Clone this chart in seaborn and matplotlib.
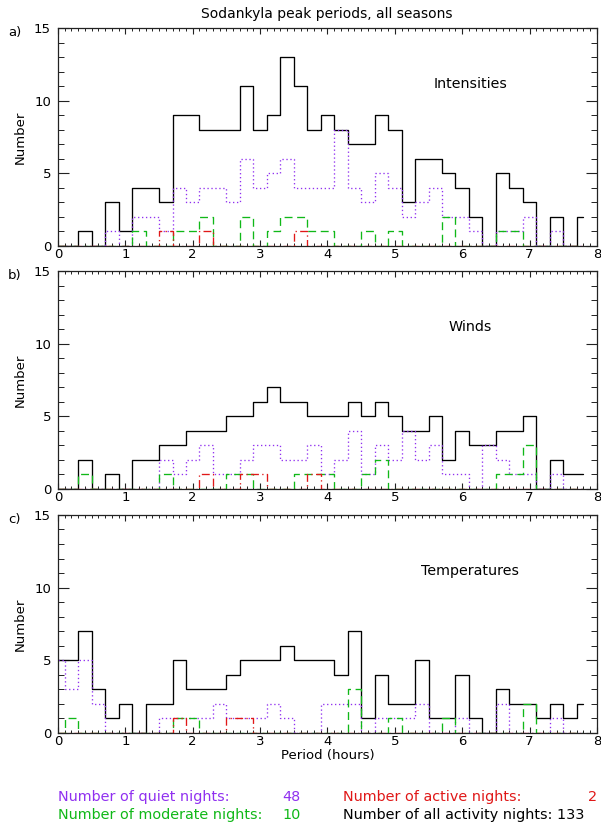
import numpy as np
import pandas as pd
import matplotlib
matplotlib.use("Agg")
import matplotlib.pyplot as plt
from matplotlib.ticker import MultipleLocator
import seaborn as sns

# Bin centres of the peak-period histograms (hours)
periods = [0.0, 0.2, 0.4, 0.6, 0.8, 1.0, 1.2, 1.4, 1.6, 1.8,
           2.0, 2.2, 2.4, 2.6, 2.8, 3.0, 3.2, 3.4, 3.6, 3.8,
           4.0, 4.2, 4.4, 4.6, 4.8, 5.0, 5.2, 5.4, 5.6, 5.8,
           6.0, 6.2, 6.4, 6.6, 6.8, 7.0, 7.2, 7.4, 7.6, 7.8]

# a) Intensities
int_all = [0, 0, 1, 0, 3, 1, 4, 4, 3, 9, 9, 8, 8, 8, 11, 8, 9, 13, 11, 8,
           9, 8, 7, 7, 9, 8, 3, 6, 6, 5, 4, 2, 0, 5, 4, 3, 0, 2, 0, 2]
int_quiet = [0, 0, 0, 0, 1, 0, 2, 2, 1, 4, 3, 4, 4, 3, 6, 4, 5, 6, 4, 4,
             4, 8, 4, 3, 5, 4, 2, 3, 4, 2, 2, 1, 0, 1, 1, 2, 0, 1, 0, 0]
int_moderate = [0, 0, 0, 0, 0, 0, 1, 0, 0, 1, 1, 2, 0, 0, 2, 0, 1, 2, 2, 1,
                1, 0, 0, 1, 0, 1, 0, 0, 0, 2, 0, 0, 0, 1, 1, 0, 0, 0, 0, 0]
int_active = [0, 0, 0, 0, 0, 0, 0, 0, 1, 0, 0, 1, 0, 0, 0, 0, 0, 0, 1, 0,
              0, 0, 0, 0, 0, 0, 0, 0, 0, 0, 0, 0, 0, 0, 0, 0, 0, 0, 0, 0]

# b) Winds
wind_all = [0, 0, 2, 0, 1, 0, 2, 2, 3, 3, 4, 4, 4, 5, 5, 6, 7, 6, 6, 5,
            5, 5, 6, 5, 6, 5, 4, 4, 5, 2, 4, 3, 3, 4, 4, 5, 0, 2, 1, 1]
wind_quiet = [0, 0, 0, 0, 0, 0, 0, 0, 2, 1, 2, 3, 1, 1, 2, 3, 3, 2, 2, 3,
              1, 2, 4, 1, 3, 2, 4, 2, 3, 1, 1, 0, 3, 2, 1, 1, 0, 1, 0, 0]
wind_moderate = [0, 0, 1, 0, 0, 0, 0, 0, 1, 0, 0, 0, 0, 1, 1, 0, 0, 0, 1, 1,
                 1, 0, 0, 1, 2, 0, 0, 0, 0, 0, 0, 0, 0, 1, 1, 3, 0, 0, 0, 0]
wind_active = [0, 0, 0, 0, 0, 0, 0, 0, 0, 0, 0, 1, 0, 0, 1, 1, 0, 0, 0, 1,
               0, 0, 0, 0, 0, 0, 0, 0, 0, 0, 0, 0, 0, 0, 0, 0, 0, 0, 0, 0]

# c) Temperatures
temp_all = [5, 5, 7, 3, 1, 2, 0, 2, 2, 5, 3, 3, 3, 4, 5, 5, 5, 6, 5, 5,
            5, 4, 7, 1, 4, 2, 2, 5, 1, 1, 4, 1, 0, 3, 2, 2, 1, 2, 1, 2]
temp_quiet = [5, 3, 5, 2, 0, 0, 0, 0, 1, 1, 1, 1, 2, 1, 1, 1, 2, 1, 0, 0,
              2, 2, 2, 0, 1, 1, 1, 2, 0, 0, 1, 0, 0, 2, 0, 0, 0, 1, 0, 0]
temp_moderate = [0, 1, 0, 0, 0, 0, 0, 0, 0, 1, 1, 0, 0, 0, 0, 0, 0, 0, 0, 0,
                 0, 0, 3, 0, 0, 1, 0, 0, 0, 1, 0, 0, 0, 0, 0, 2, 0, 0, 0, 0]
temp_active = [0, 0, 0, 0, 0, 0, 0, 0, 0, 1, 0, 0, 0, 1, 1, 0, 0, 0, 0, 0,
               0, 0, 0, 0, 0, 0, 0, 0, 0, 0, 0, 0, 0, 0, 0, 0, 0, 0, 0, 0]

panel_letters = ["a)", "b)", "c)"]
panel_names = ["Intensities", "Winds", "Temperatures"]
panel_series = [
    (int_all, int_quiet, int_moderate, int_active),
    (wind_all, wind_quiet, wind_moderate, wind_active),
    (temp_all, temp_quiet, temp_moderate, temp_active),
]

legend_labels = ["Number of quiet nights:", "Number of moderate nights:",
                 "Number of active nights:", "Number of all activity nights:"]
legend_counts = [48, 10, 2, 133]

C_ALL = "#000000"
C_QUIET = "#9030F0"
C_MOD = "#10B818"
C_ACT = "#E01818"

sns.set_style("ticks")
plt.rcParams["font.family"] = ["DejaVu Sans"]
plt.rcParams["axes.edgecolor"] = "#222222"
plt.rcParams["axes.linewidth"] = 0.9
plt.rcParams["text.color"] = "black"
plt.rcParams["axes.labelcolor"] = "black"
plt.rcParams["xtick.color"] = "#222222"
plt.rcParams["ytick.color"] = "#222222"
plt.rcParams["xtick.labelcolor"] = "black"
plt.rcParams["ytick.labelcolor"] = "black"

fig = plt.figure(figsize=(6.01, 8.30), dpi=100)

left, width = 0.0965, 0.8968
bottoms = [0.7036, 0.4108, 0.1169]
height = 0.2627

styles = [
    (C_ALL, "-"),
    (C_QUIET, (0, (1.0, 2.0))),
    (C_MOD, (0, (6.0, 3.5))),
    (C_ACT, (0, (6.0, 2.5, 1.0, 2.5))),
]

FS = 9.5

for i in range(3):
    ax = fig.add_axes([left, bottoms[i], width, height])
    series = panel_series[i]
    for (color, ls), vals in zip(styles, series):
        df = pd.DataFrame({"period": periods, "count": vals})
        sns.lineplot(data=df, x="period", y="count", ax=ax, color=color,
                     linestyle=ls, drawstyle="steps-mid", linewidth=0.95,
                     estimator=None, legend=False)
    ax.set_xlim(0, 8)
    ax.set_ylim(0, 15)
    ax.set_xlabel("")
    ax.set_ylabel("Number", fontsize=FS, labelpad=5)
    ax.xaxis.set_major_locator(MultipleLocator(1))
    ax.xaxis.set_minor_locator(MultipleLocator(0.1))
    ax.yaxis.set_major_locator(MultipleLocator(5))
    ax.yaxis.set_minor_locator(MultipleLocator(1))
    ax.tick_params(axis="x", which="major", direction="in", length=4.0,
                   width=0.8, top=True, bottom=True, labelsize=FS, pad=1.5)
    ax.tick_params(axis="x", which="minor", direction="in", length=2.0,
                   width=0.7, top=True, bottom=True)
    ax.tick_params(axis="y", which="major", direction="in", length=8.0,
                   width=0.8, left=True, right=True, labelsize=FS, pad=5)
    ax.tick_params(axis="y", which="minor", direction="in", length=4.3,
                   width=0.7, left=True, right=True)
    for sp in ax.spines.values():
        sp.set_visible(True)
    ax.text(6.12, 11.15, panel_names[i], ha="center", va="center",
            fontsize=10.3)
    fig.text(0.013, bottoms[i] + height - 0.005, panel_letters[i],
             ha="left", va="center", fontsize=FS)
    if i == 2:
        ax.set_xlabel("Period (hours)", fontsize=FS, labelpad=1)

fig.text(0.543, 0.983, "Sodankyla peak periods, all seasons",
         ha="center", va="center", fontsize=10)

# Summary counts under the panels
LFS = 10.4
row_y = [0.040, 0.018]
fig.text(0.0965, row_y[0], legend_labels[0], color=C_QUIET, fontsize=LFS,
         ha="left", va="center")
fig.text(0.500, row_y[0], str(legend_counts[0]), color=C_QUIET, fontsize=LFS,
         ha="right", va="center")
fig.text(0.0965, row_y[1], legend_labels[1], color=C_MOD, fontsize=LFS,
         ha="left", va="center")
fig.text(0.500, row_y[1], str(legend_counts[1]), color=C_MOD, fontsize=LFS,
         ha="right", va="center")
fig.text(0.571, row_y[0], legend_labels[2], color=C_ACT, fontsize=LFS,
         ha="left", va="center")
fig.text(0.993, row_y[0], str(legend_counts[2]), color=C_ACT, fontsize=LFS,
         ha="right", va="center")
fig.text(0.571, row_y[1], legend_labels[3] + " " + str(legend_counts[3]),
         color=C_ALL, fontsize=LFS, ha="left", va="center")

fig.savefig("out.png", dpi=100)
